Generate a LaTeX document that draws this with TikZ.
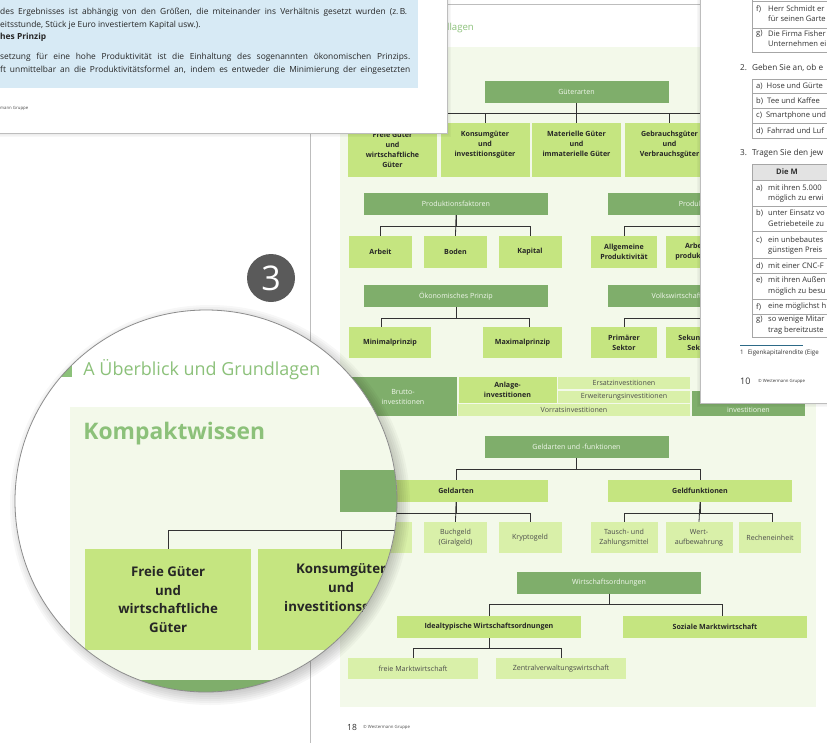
\documentclass[tikz,border=0pt]{standalone}
\usepackage{fontspec}
\setmainfont{Open Sans}
\usetikzlibrary{calc}

\definecolor{darkgreen}{HTML}{7FAE6B}
\definecolor{boxgreen}{HTML}{C5E580}
\definecolor{palegreen}{HTML}{D9F0A9}
\definecolor{panelgreen}{HTML}{F3F9EA}
\definecolor{headgreen}{HTML}{8CC17A}
\definecolor{whitetext}{HTML}{F2F8EE}
\definecolor{infoblue}{HTML}{D7EAF5}
\definecolor{pageedge}{HTML}{BDBDBD}
\definecolor{linegray}{HTML}{333333}
\definecolor{badgegray}{HTML}{5A5A5A}
\definecolor{rulecolor}{HTML}{2D6A87}

\newcommand{\boxfont}{\fontsize{7.1}{10}\selectfont}
\newcommand{\tabfont}{\fontsize{7.6}{11}\selectfont}
\newcommand{\infofont}{\fontsize{8.4}{10}\selectfont}
\newcommand{\headfont}{\fontsize{9.6}{10}\selectfont}

\tikzset{
  topbox/.style={rectangle, fill=darkgreen, text=whitetext, font=\boxfont, inner sep=0pt, align=center, minimum width=184pt, minimum height=22pt},
  midbox/.style={rectangle, fill=boxgreen, text=black!85, font=\boxfont\bfseries, inner sep=0pt, align=center},
  subbox/.style={rectangle, fill=palegreen, text=black!70, font=\boxfont, inner sep=0pt, align=center},
  gutbox/.style={midbox, minimum width=89pt, minimum height=54pt},
  conn/.style={draw=linegray, line width=0.8pt},
  pagetext/.style={anchor=west, inner sep=0pt, font=\tabfont, text=black!80},
  rowline/.style={draw=gray!70, line width=0.5pt},
}

\begin{document}
\begin{tikzpicture}[x=1pt, y=-1pt]
  \useasboundingbox (0,0) rectangle (827,742);
  \fill[white] (0,0) rectangle (827,742);

  % page 18
  \fill[white] (310,4) rectangle (840,760);
  \draw[pageedge, line width=0.8pt] (310,760) -- (310,4) -- (840,4);
  \fill[headgreen] (335,23) rectangle (341,31);
  \node[anchor=west, inner sep=0pt, text=headgreen, font=\headfont] (kopf) at (347,27) {A Überblick und Grundlagen};
  \fill[panelgreen] (340,47) rectangle (816,707);

  % Gueterarten
  \node[topbox] (gut) at (576.5,92) {Güterarten};
  \node[gutbox] (gut-a) at (392.5,150) {Freie Güter\\und\\wirtschaftliche\\Güter};
  \node[gutbox] (gut-b) at (485,150) {Konsumgüter\\und\\investitionsgüter\\\strut};
  \node[gutbox] (gut-c) at (576.5,150) {Materielle Güter\\und\\immaterielle Güter\\\strut};
  \node[gutbox] (gut-d) at (669.5,150) {Gebrauchsgüter\\und\\Verbrauchsgüter\\\strut};
  \coordinate (gut-e) at (762,123);
  \draw[conn] (gut.south) -- ++(0,10) -| (gut-a.north);
  \draw[conn] (gut.south) -- ++(0,10) -| (gut-b.north);
  \draw[conn] (gut.south) -- (gut-c.north);
  \draw[conn] (gut.south) -- ++(0,10) -| (gut-d.north);
  \draw[conn] (gut.south) -- ++(0,10) -| (gut-e);

  % Produktionsfaktoren
  \node[topbox] (prod) at (456,204) {Produktionsfaktoren};
  \node[midbox, minimum width=63pt, minimum height=32pt] (prod-a) at (380.5,252) {Arbeit};
  \node[midbox, minimum width=63pt, minimum height=32pt] (prod-b) at (455.5,252) {Boden};
  \node[midbox, minimum width=63pt, minimum height=32pt] (prod-c) at (530,252) {Kapital};
  \draw[conn] (prod.south) -- ++(0,11) -| (prod-a.north);
  \draw[conn] (prod.south) -- (prod-b.north);
  \draw[conn] (prod.south) -- ++(0,11) -| (prod-c.north);

  % Produktivitaet
  \node[topbox] (ptiv) at (700,204) {Produktivität};
  \node[midbox, minimum width=66pt, minimum height=32pt] (ptiv-a) at (624,252) {Allgemeine\\Produktivität};
  \node[midbox, minimum width=66pt, minimum height=32pt] (ptiv-b) at (699,252) {Arbeits-\\produktivität};
  \coordinate (ptiv-c) at (774,236);
  \draw[conn] (ptiv.south) -- ++(0,11) -| (ptiv-a.north);
  \draw[conn] (ptiv.south) -- ++(0,11) -| (ptiv-c);

  % Oekonomisches Prinzip
  \node[topbox] (oek) at (456,296) {Ökonomisches Prinzip};
  \node[midbox, minimum width=82pt, minimum height=31pt] (oek-a) at (390,342.5) {Minimalprinzip};
  \node[midbox, minimum width=79pt, minimum height=31pt] (oek-b) at (522.5,342.5) {Maximalprinzip};
  \draw[conn] (oek.south) -- ++(0,11) -| ([xshift=-9pt]oek-a.north);
  \draw[conn] (oek.south) -- ++(0,11) -| ([xshift=6.5pt]oek-b.north);

  % Sektoren
  \node[topbox] (sekt) at (700,296) {Volkswirtschaftliche Sektoren};
  \node[midbox, minimum width=66pt, minimum height=31pt] (sekt-a) at (624,342.5) {Primärer\\Sektor};
  \node[midbox, minimum width=66pt, minimum height=31pt] (sekt-b) at (699,342.5) {Sekundärer\\Sektor};
  \coordinate (sekt-c) at (774,327);
  \draw[conn] (sekt.south) -- ++(0,11) -| (sekt-a.north);
  \draw[conn] (sekt.south) -- ++(0,11) -| (sekt-c);

  % Investitionen
  \node[topbox, minimum width=108pt, minimum height=39pt] (brutto) at (403,396.5) {Brutto-\\investitionen};
  \node[midbox, minimum width=98pt, minimum height=26pt] (anlage) at (507.5,390) {Anlage-\\investitionen};
  \node[subbox, minimum width=132pt, minimum height=12pt] (ersatz) at (624,383.3) {Ersatzinvestitionen};
  \node[subbox, minimum width=132pt, minimum height=12pt] (erweit) at (624,396.7) {Erweiterungsinvestitionen};
  \node[subbox, minimum width=232pt, minimum height=12pt] (vorrat) at (574,410) {Vorratsinvestitionen};
  \node[topbox, minimum width=113pt, minimum height=25pt] (netto) at (748.5,403.5) {};
  \node[inner sep=0pt, text=whitetext, font=\boxfont] (netto-t) at (748.5,409.5) {investitionen};

  % Geld
  \node[topbox] (geld) at (576.5,447) {Geldarten und -funktionen};
  \node[midbox, minimum width=184pt, minimum height=22pt] (garten) at (456,491) {Geldarten};
  \node[midbox, minimum width=184pt, minimum height=22pt] (gfunk) at (700,491) {Geldfunktionen};
  \draw[conn] (geld.south) -- ++(0,11) -| (garten.north);
  \draw[conn] (geld.south) -- ++(0,11) -| (gfunk.north);
  \node[subbox, minimum width=63pt, minimum height=31pt] (bar) at (380.5,537.5) {Bargeld};
  \node[subbox, minimum width=63pt, minimum height=31pt] (buch) at (455.5,537.5) {Buchgeld\\(Giralgeld)};
  \node[subbox, minimum width=63pt, minimum height=31pt] (krypto) at (530,537.5) {Kryptogeld};
  \draw[conn] (garten.south) -- ++(0,11) -| (bar.north);
  \draw[conn] (garten.south) -- (buch.north);
  \draw[conn] (garten.south) -- ++(0,11) -| (krypto.north);
  \node[subbox, minimum width=67pt, minimum height=31pt] (tausch) at (624,537.5) {Tausch- und\\Zahlungsmittel};
  \node[subbox, minimum width=67pt, minimum height=31pt] (wert) at (699,537.5) {Wert-\\aufbewahrung};
  \node[subbox, minimum width=62pt, minimum height=31pt] (rechen) at (770,537.5) {Recheneinheit};
  \draw[conn] (gfunk.south) -- ++(0,11) -| (tausch.north);
  \draw[conn] (gfunk.south) -- (wert.north);
  \draw[conn] (gfunk.south) -- ++(0,11) -| ([xshift=2pt]rechen.north);

  % Wirtschaftsordnungen
  \node[topbox] (wirt) at (609,582.5) {Wirtschaftsordnungen};
  \node[midbox, minimum width=184pt, minimum height=22pt] (ideal) at (489,627) {Idealtypische Wirtschaftsordnungen};
  \node[midbox, minimum width=184pt, minimum height=22pt] (sozial) at (715,627) {Soziale Marktwirtschaft};
  \draw[conn] (wirt.south) -- ++(0,11) -| (ideal.north);
  \draw[conn] (wirt.south) -- ++(0,11) -| ([xshift=7pt]sozial.north);
  \node[subbox, minimum width=130pt, minimum height=21pt] (markt) at (413,668.5) {freie Marktwirtschaft};
  \node[subbox, minimum width=130pt, minimum height=21pt] (zentral) at (561,668.5) {Zentralverwaltungswirtschaft};
  \draw[conn] (ideal.south) -- ++(0,10) -| (markt.north);
  \draw[conn] (ideal.south) -- ++(0,10) -| (zentral.north);

  \node[anchor=west, inner sep=0pt, font=\fontsize{8.5}{9}\selectfont, text=black!80] (seite) at (347,727) {18};
  \node[anchor=west, inner sep=0pt, font=\fontsize{4.3}{5}\selectfont, text=black!70] (verlag) at (363,727) {© Westermann Gruppe};

  % page 10
  \draw[black, opacity=0.07, line width=1pt] (699,-5) -- (699,404) -- (840,404);
  \draw[black, opacity=0.05, line width=1pt] (698,-5) -- (698,405) -- (840,405);
  \draw[black, opacity=0.03, line width=1pt] (697,-5) -- (697,406) -- (840,406);
  \fill[white] (700,-5) rectangle (840,403);
  \draw[pageedge, line width=0.8pt] (700,-5) -- (700,403) -- (840,403);
  \draw[rowline] (840,1) -- (752,1);
  \draw[rowline] (752,-5) -- (752,52) -- (840,52);
  \draw[rowline] (752,28) -- (840,28);
  \node[pagetext] (t1f) at (756,9) {f)};
  \node[pagetext] (t1f1) at (768,9) {Herr Schmidt er};
  \node[pagetext] (t1f2) at (768,19) {für seinen Garte};
  \node[pagetext] (t1g) at (756,34) {g)};
  \node[pagetext] (t1g1) at (768,34) {Die Firma Fisher};
  \node[pagetext] (t1g2) at (768,44) {Unternehmen ei};
  \node[pagetext, font=\fontsize{8.2}{10}\selectfont] (auf2) at (740,68) {2.\hspace{5pt}Geben Sie an, ob e};
  \draw[rowline] (840,79) -- (752,79) -- (752,138.5) -- (840,138.5);
  \draw[rowline] (752,93.5) -- (840,93.5);
  \draw[rowline] (752,108.5) -- (840,108.5);
  \draw[rowline] (752,123.5) -- (840,123.5);
  \node[pagetext] (t2a) at (756,86) {a)\hspace{4pt}Hose und Gürte};
  \node[pagetext] (t2b) at (756,101) {b)\hspace{4pt}Tee und Kaffee};
  \node[pagetext] (t2c) at (756,116) {c)\hspace{4pt}Smartphone und};
  \node[pagetext] (t2d) at (756,131) {d)\hspace{4pt}Fahrrad und Luf};
  \node[pagetext, font=\fontsize{8.2}{10}\selectfont] (auf3) at (740,153) {3.\hspace{5pt}Tragen Sie den jew};
  \fill[gray!22] (752,164) rectangle (840,180);
  \draw[rowline] (840,164) -- (752,164) -- (752,337) -- (840,337);
  \draw[rowline] (752,180) -- (840,180);
  \draw[rowline] (752,206) -- (840,206);
  \draw[rowline] (752,231) -- (840,231);
  \draw[rowline] (752,258) -- (840,258);
  \draw[rowline] (752,273) -- (840,273);
  \draw[rowline] (752,299) -- (840,299);
  \draw[rowline] (752,314) -- (840,314);
  \node[pagetext, font=\tabfont\bfseries] (t3h) at (776,172) {Die M};
  \node[pagetext] (t3a) at (756,188) {a)};
  \node[pagetext] (t3a1) at (768,188) {mit ihren 5.000};
  \node[pagetext] (t3a2) at (768,199) {möglich zu erwi};
  \node[pagetext] (t3b) at (756,213) {b)};
  \node[pagetext] (t3b1) at (768,213) {unter Einsatz vo};
  \node[pagetext] (t3b2) at (768,224) {Getriebeteile zu};
  \node[pagetext] (t3c) at (756,240) {c)};
  \node[pagetext] (t3c1) at (768,240) {ein unbebautes};
  \node[pagetext] (t3c2) at (768,251) {günstigen Preis};
  \node[pagetext] (t3d) at (756,266) {d)};
  \node[pagetext] (t3d1) at (768,266) {mit einer CNC-F};
  \node[pagetext] (t3e) at (756,280) {e)};
  \node[pagetext] (t3e1) at (768,280) {mit ihren Außen};
  \node[pagetext] (t3e2) at (768,292) {möglich zu besu};
  \node[pagetext] (t3f) at (756,307) {f)};
  \node[pagetext] (t3f1) at (768,307) {eine möglichst h};
  \node[pagetext] (t3g) at (756,320) {g)};
  \node[pagetext] (t3g1) at (768,320) {so wenige Mitar};
  \node[pagetext] (t3g2) at (768,331) {trag bereitzuste};
  \draw[rulecolor, line width=0.8pt] (740,345) -- (803,345);
  \node[pagetext, font=\fontsize{6.2}{7}\selectfont] (fuss) at (740,353) {1\hspace{4pt}Eigenkapitalrendite (Eige};
  \node[pagetext, font=\fontsize{9}{10}\selectfont] (seite10) at (740,381) {10};
  \node[pagetext, font=\fontsize{4.3}{5}\selectfont] (verlag10) at (758,381) {© Westermann Gruppe};

  % page 9
  \draw[black, opacity=0.07, line width=1pt] (-5,134) -- (448,134) -- (448,-5);
  \draw[black, opacity=0.05, line width=1pt] (-5,135) -- (449,135) -- (449,-5);
  \draw[black, opacity=0.03, line width=1pt] (-5,136) -- (450,136) -- (450,-5);
  \fill[white] (-5,-5) rectangle (447,133);
  \draw[pageedge, line width=0.8pt] (-5,133) -- (447,133) -- (447,-5);
  \fill[infoblue] (-5,-5) rectangle (418,88);
  \node[anchor=west, inner sep=0pt, font=\infofont, text=black!85] (z1) at (0,12.5) {\makebox[407pt][s]{des Ergebnisses ist abhängig von den Größen, die miteinander ins Verhältnis gesetzt wurden (z.\,B.}};
  \node[anchor=west, inner sep=0pt, font=\infofont, text=black!85] (z2) at (0,25) {eitsstunde, Stück je Euro investiertem Kapital usw.).};
  \node[anchor=west, inner sep=0pt, font=\infofont\bfseries, text=black!85] (z3) at (0,37) {hes Prinzip};
  \node[anchor=west, inner sep=0pt, font=\infofont, text=black!85] (z4) at (0,57) {\makebox[410pt][s]{setzung für eine hohe Produktivität ist die Einhaltung des sogenannten ökonomischen Prinzips.}};
  \node[anchor=west, inner sep=0pt, font=\infofont, text=black!85] (z5) at (0,70) {\makebox[410pt][s]{ft unmittelbar an die Produktivitätsformel an, indem es entweder die Minimierung der eingesetzten}};
  \node[anchor=west, inner sep=0pt, font=\fontsize{4.3}{5}\selectfont, text=black!70] (verlag9) at (0,108) {mann Gruppe};

  % badge
  \node[circle, fill=badgegray, minimum size=48pt, inner sep=0pt, text=white, font=\fontsize{34}{34}\selectfont] (drei) at (271,278) {3};

  % lens
  \foreach \k in {1,...,8}
    \fill[black, opacity=0.03] (210,505) circle [radius=184pt+2pt*\k];
  \begin{scope}
    \clip (206,501) circle [radius=191pt];
    \fill[white] (0,290) rectangle (420,720);
    \begin{scope}[shift={(-565.8,319)}, scale=1.87, transform shape, name prefix=lupe-, conn/.append style={line width=1.3pt}]
      \fill[headgreen] (335,23) rectangle (341,31);
      \node[anchor=west, inner sep=0pt, text=headgreen, font=\headfont] (kopf) at (347,27) {A Überblick und Grundlagen};
      \fill[panelgreen] (340,47) rectangle (560,240);
      \node[anchor=west, inner sep=0pt, text=headgreen, font=\fontsize{12.2}{13}\selectfont\bfseries] (kompakt) at (347,61) {Kompaktwissen};
      \node[topbox] (gut) at (576.5,92) {};
      \node[gutbox] (gut-a) at (392.5,150) {Freie Güter\\und\\wirtschaftliche\\Güter};
      \node[gutbox] (gut-b) at (485,150) {Konsumgüter\\und\\investitionsgüter\\\strut};
      \coordinate (gut-c) at (576.5,123);
      \draw[conn] (gut.south) -- ++(0,10) -| (gut-a.north);
      \draw[conn] (gut.south) -- ++(0,10) -| (gut-b.north);
      \draw[conn] (gut.south) -- (gut-c);
      \node[topbox] (prod) at (456,204) {};
    \end{scope}
  \end{scope}
  \draw[gray!90, line width=0.8pt] (206,501) circle [radius=191pt];
\end{tikzpicture}
\end{document}
